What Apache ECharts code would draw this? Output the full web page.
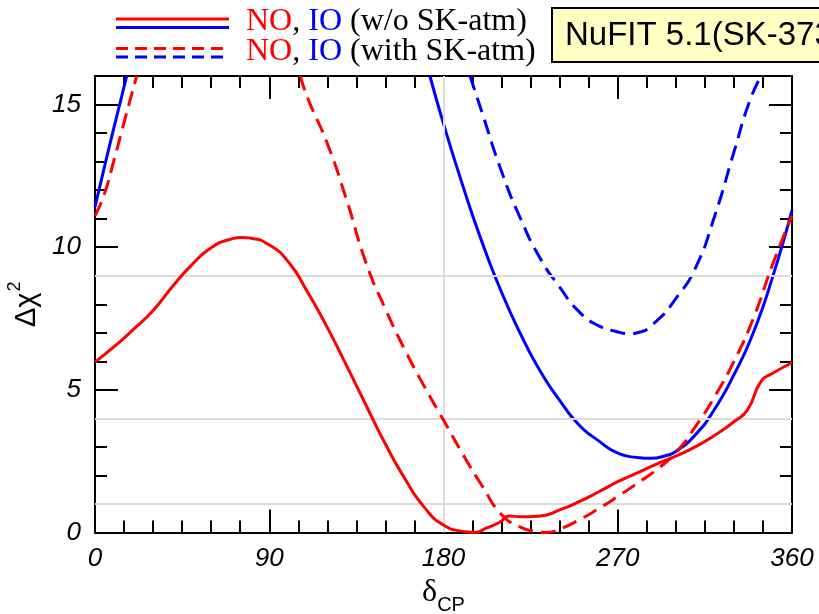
<!DOCTYPE html>
<html><head><meta charset="utf-8">
<script src="https://cdn.jsdelivr.net/npm/echarts@6/dist/echarts.min.js"></script>
<style>html,body{margin:0;padding:0;background:#fff}#c{width:819px;height:614px}</style>
</head><body><div id="c"></div>
<script>
// ---- data (delta_CP in degrees, Delta chi^2) ----
const noWithoutSK = [[0,5.97],[10,6.52],[20,7.13],[30,7.78],[40,8.62],[50,9.38],[60,9.98],[70,10.28],[76,10.34],[80,10.32],[90,10.08],[100,9.47],[110,8.4],[120,7.18],[130,5.84],[140,4.46],[150,3.1],[160,1.89],[170,0.89],[180,0.26],[190,0.04],[196,0.0],[202,0.15],[209,0.36],[214,0.58],[220,0.55],[230,0.58],[240,0.79],[250,1.08],[260,1.42],[270,1.78],[280,2.09],[290,2.4],[300,2.68],[310,3.0],[320,3.4],[330,3.88],[337,4.3],[344,5.3],[350,5.58],[360,5.95]];
const noWithSK_a = [[0,11.1],[5,11.9],[10,13.1],[15,14.37],[21.5,16.0]];
const noWithSK_b = [[106,16.0],[110,15.2],[120,13.63],[130,11.65],[140,9.45],[150,7.83],[160,6.41],[170,5.13],[180,3.94],[190,2.74],[200,1.63],[210,0.63],[220,0.18],[228,0.03],[233,0.0],[240,0.12],[250,0.44],[260,0.83],[270,1.26],[280,1.72],[290,2.2],[300,2.8],[310,3.7],[320,4.76],[330,6.0],[340,7.5],[350,9.4],[360,11.1]];
const ioWithoutSK_a = [[0,11.41],[5,12.85],[10,14.25],[16.4,16.0]];
const ioWithoutSK_b = [[173,16.0],[180,14.33],[190,12.15],[200,10.16],[210,8.42],[220,6.93],[230,5.65],[240,4.63],[250,3.77],[260,3.22],[270,2.78],[280,2.63],[287,2.6],[295,2.7],[300,2.84],[310,3.42],[320,4.32],[330,5.53],[340,7.0],[350,8.96],[360,11.3]];
const ioWithSK = [[193.7,16.0],[200,14.7],[210,12.65],[220,10.97],[230,9.6],[240,8.6],[250,7.74],[260,7.25],[270,7.03],[276,6.97],[280,7.0],[290,7.41],[300,8.2],[310,9.25],[320,11.08],[330,13.33],[338,15.1],[344,16.0]];
const refLevels = [1, 4, 9];
const refDelta = [180];
const legendTails = [' (w/o SK-atm)', ' (with SK-atm)'];
const boxText = 'NuFIT 5.1(SK-373';

const RED = '#ff0000', BLUE = '#0000ff';
const chart = echarts.init(document.getElementById('c'), null, {renderer: 'canvas'});

function curve(data, color, dashed, z) {
  return {type: 'line', data: data, xAxisIndex: 0, yAxisIndex: 0, symbol: 'none', showSymbol: false,
    smooth: 0.55, clip: true, silent: true, z: z,
    lineStyle: {color: color, width: 3, type: dashed ? [15, 8] : 'solid'}};
}
const tickLabel = {fontStyle: 'italic', fontFamily: 'Liberation Sans', fontSize: 26, color: '#000'};
const axLine = {show: true, lineStyle: {color: '#000', width: 2}};
function xAx(pos, labels) {
  return {type: 'value', position: pos, min: 0, max: 360, interval: 90,
    axisLine: Object.assign({onZero: false}, axLine),
    axisTick: {show: true, inside: true, length: 23, lineStyle: {color: '#000', width: 2}},
    minorTick: {show: true, splitNumber: 6, length: 12, lineStyle: {color: '#000', width: 2}},
    splitLine: {show: false},
    axisLabel: labels ? Object.assign({margin: 13}, tickLabel) : {show: false},
    name: labels ? '{d|δ}{s|CP}' : '', nameLocation: 'middle', nameGap: 42,
    nameTextStyle: {rich: {
      d: {fontFamily: 'Liberation Serif', fontSize: 32, color: '#000', verticalAlign: 'bottom', padding: [0, 0, 7, 0]},
      s: {fontFamily: 'Liberation Sans', fontSize: 20, color: '#000', verticalAlign: 'bottom'}}}
  };
}
function yAx(pos, labels) {
  return {type: 'value', position: pos, min: 0, max: 16, interval: 5,
    axisLine: Object.assign({onZero: false}, axLine),
    axisTick: {show: true, inside: true, length: 23, lineStyle: {color: '#000', width: 2}},
    minorTick: {show: true, splitNumber: 5, length: 12, lineStyle: {color: '#000', width: 2}},
    splitLine: {show: false},
    axisLabel: labels ? Object.assign({margin: 14, showMaxLabel: false}, tickLabel) : {show: false},
    name: labels ? '{a|Δχ}{s|2}' : '', nameLocation: 'middle', nameGap: 50, nameRotate: 90,
    nameTextStyle: {rich: {
      a: {fontFamily: 'Liberation Sans', fontSize: 29, color: '#000', verticalAlign: 'bottom'},
      s: {fontFamily: 'Liberation Sans', fontSize: 18, color: '#000', verticalAlign: 'bottom', padding: [0, 0, 17, 1]}}}
  };
}

const legendGraphics = [];
legendTails.forEach(function (tail, i) {
  const yc = 24 + i * 29.5;
  const dash = i === 1 ? [12, 7] : null;
  legendGraphics.push({type: 'line', shape: {x1: 116, y1: yc - 5, x2: 229, y2: yc - 5}, style: {stroke: RED, lineWidth: 3, lineDash: dash}});
  legendGraphics.push({type: 'line', shape: {x1: 116, y1: yc + 3.5, x2: 229, y2: yc + 3.5}, style: {stroke: BLUE, lineWidth: 3, lineDash: dash}});
  legendGraphics.push({type: 'text', x: 246, y: yc - 2, style: {
    text: '{r|NO}{k|, }{b|IO}{k|' + tail + '}', verticalAlign: 'middle', align: 'left',
    font: '32px "Liberation Serif"', fill: '#000',
    rich: {r: {font: '32px "Liberation Serif"', fill: RED}, b: {font: '32px "Liberation Serif"', fill: BLUE}, k: {font: '32px "Liberation Serif"', fill: '#000'}}}});
});
legendGraphics.push({type: 'rect', shape: {x: 552, y: 8, width: 300, height: 54}, style: {fill: '#ffffc4', stroke: '#000', lineWidth: 2}});
legendGraphics.push({type: 'text', x: 565, y: 36, style: {text: boxText, font: '33px "Liberation Sans"', fill: '#000', verticalAlign: 'middle', align: 'left'}});

chart.setOption({
  animation: false,
  backgroundColor: '#fff',
  grid: {left: 95, right: 27, top: 76, bottom: 81.5, containLabel: false, outerBoundsMode: 'none'},
  xAxis: [xAx('bottom', true), xAx('top', false)],
  yAxis: [yAx('left', true), yAx('right', false)],
  graphic: legendGraphics,
  series: [
    {type: 'line', data: [], xAxisIndex: 0, yAxisIndex: 0, z: 1, silent: true,
     markLine: {silent: true, symbol: 'none', label: {show: false}, animation: false,
       lineStyle: {color: '#dcdcdc', width: 2, type: 'solid'},
       data: refLevels.map(function (v) { return {yAxis: v}; }).concat(refDelta.map(function (v) { return {xAxis: v}; }))}},
    curve(ioWithSK, BLUE, true, 3),
    curve(ioWithoutSK_a, BLUE, false, 4),
    curve(ioWithoutSK_b, BLUE, false, 4),
    curve(noWithSK_a, RED, true, 5),
    curve(noWithSK_b, RED, true, 5),
    curve(noWithoutSK, RED, false, 6)
  ]
});
</script></body></html>
